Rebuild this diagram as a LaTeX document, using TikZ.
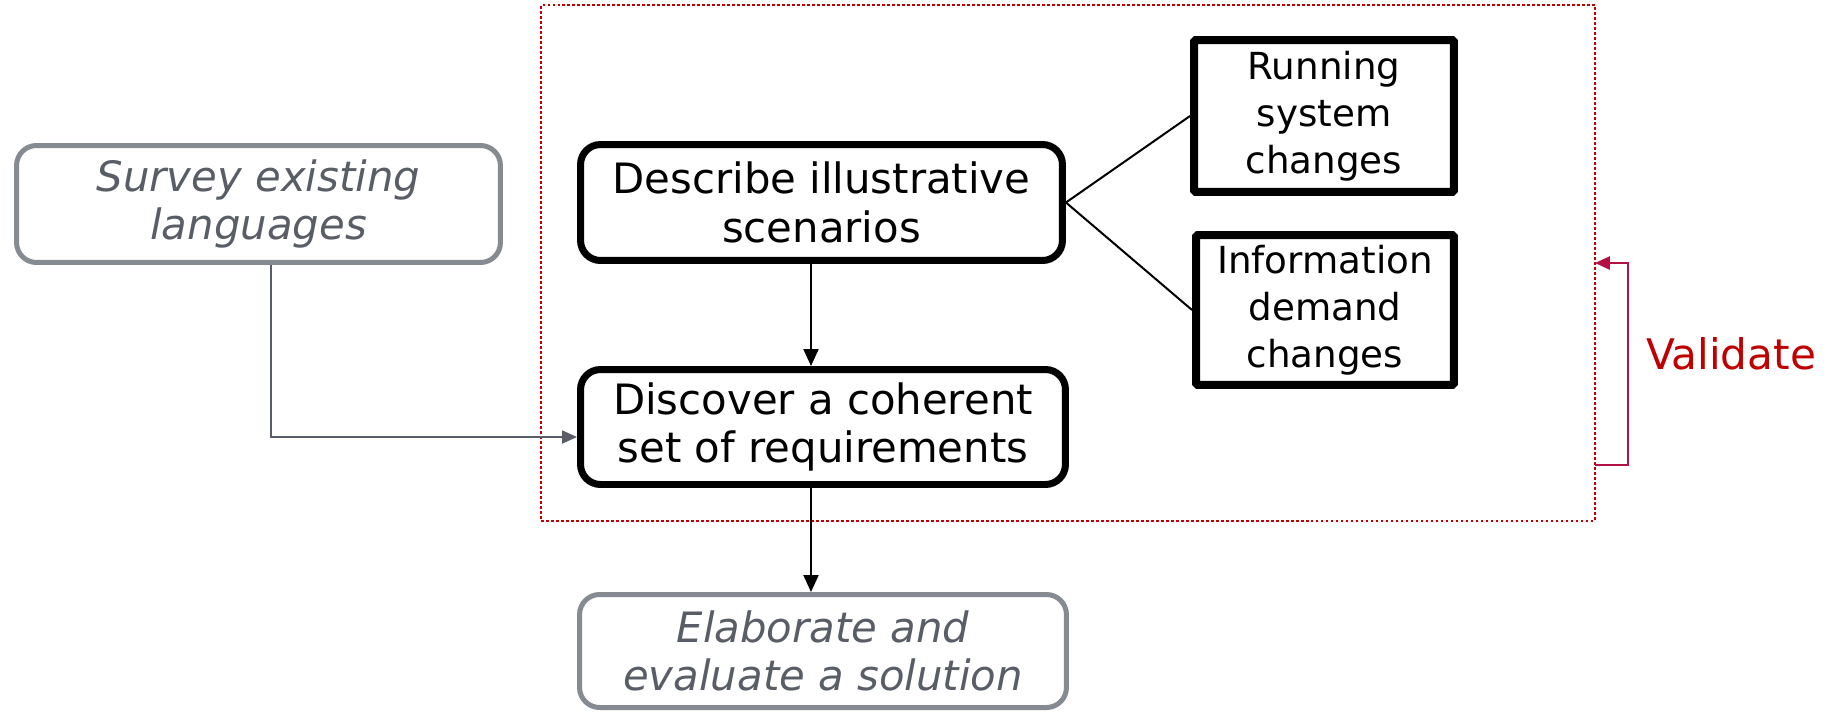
\documentclass[tikz,border=0pt]{standalone}
\usepackage{fontspec}
\setmainfont{DejaVu Sans}
\usepackage{xcolor}
\usepackage{tikz}
\usetikzlibrary{arrows.meta}
\usetikzlibrary{positioning}
\definecolor{greytext}{RGB}{89,94,102}
\definecolor{greyline}{RGB}{134,139,145}
\definecolor{darkred}{RGB}{192,0,0}
\definecolor{crimson}{RGB}{181,16,70}
\tikzset{
    stepnode/.style = {rectangle, rounded corners=0.4cm, draw=black, line width=0.14cm, align=center, fill=white, inner sep=0pt, font=\fontsize{23.8}{27.5}\selectfont},
    greynode/.style = {rectangle, rounded corners=0.4cm, draw=greyline, line width=0.1cm, align=center, fill=white, inner sep=0pt, text=greytext, font=\fontsize{23.8}{27.5}\selectfont\itshape},
    changenode/.style = {rectangle, rounded corners=1pt, draw=black, line width=0.16cm, align=center, fill=white, inner sep=0pt, font=\fontsize{21.2}{26.8}\selectfont},
    framenode/.style = {rectangle, draw=darkred, line width=0.045cm, dash pattern=on 0.05cm off 0.05cm, inner sep=0pt, outer sep=0pt},
}
\begin{document}
\begin{tikzpicture}[
	x=0.02cm, y=-0.02cm,
	thick
]
\tikzset{
    edgen/.style = {-, line width=0.04cm, black},
    edgea/.style = {-{Triangle[length=0.34cm,width=0.3cm]}, line width=0.04cm, black},
    edgeg/.style = {-{Triangle[length=0.3cm,width=0.26cm]}, line width=0.04cm, greytext},
    edgev/.style = {-{Triangle[length=0.3cm,width=0.26cm]}, line width=0.05cm, crimson},
}
\useasboundingbox (0,0) rectangle (1829,711);
\node[framenode, minimum width=21.08cm, minimum height=10.32cm] at (1068,263) (frame) {};
%
\node[greynode, minimum width=9.68cm, minimum height=2.34cm] at (258.5,204) (survey) {Survey existing\\languages};
\node[stepnode, minimum width=9.64cm, minimum height=2.32cm] at (821.5,202.5) (describe) {Describe illustrative\\scenarios};
\node[stepnode, minimum width=9.7cm, minimum height=2.3cm] at (823,427) (discover) {Discover a coherent\\set of requirements};
\node[greynode, minimum width=9.74cm, minimum height=2.26cm] at (823,651) (elaborate) {Elaborate and\\evaluate a solution};
\node[changenode, minimum width=5.2cm, minimum height=3.04cm] at (1324,116) (running) {Running\\system\\changes};
\node[changenode, minimum width=5.16cm, minimum height=3.0cm] at (1325,310) (information) {Information\\demand\\changes};
\node[text=darkred, font=\fontsize{24}{28}\selectfont] at (1731,354) (validate) {Validate};
%
\coordinate (down1) at ([xshift=-0.21cm]describe.south);
\coordinate (down2) at ([xshift=-0.24cm]discover.south);
\draw[edgen] (describe.east) -- (running.west);
\draw[edgen] (describe.east) -- (information.west);
\draw[edgea] (down1) -- (down1 |- discover.north);
\draw[edgea] (down2) -- (down2 |- elaborate.north);
\draw[edgeg] ([xshift=0.24cm]survey.south) |- ([yshift=-0.2cm]discover.west);
\draw[edgev] ([yshift=-4.04cm]frame.east) -- ++(33,0) |- (frame.east);
\end{tikzpicture}
\end{document}
